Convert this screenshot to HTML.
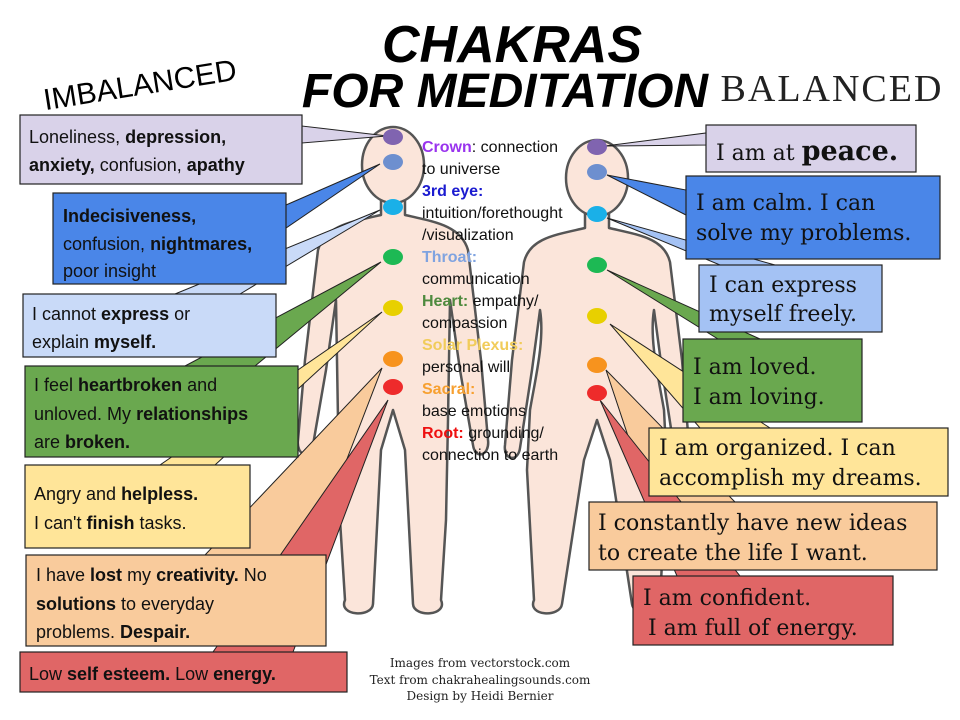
<!DOCTYPE html>
<html><head><meta charset="utf-8"><style>
html,body{margin:0;padding:0;background:#fff;}
svg{display:block;}
.l{font-family:"Liberation Sans",sans-serif;font-size:18px;fill:#111;}
.l tspan.b{font-weight:bold;}
.r{font-family:"DejaVu Serif","Liberation Serif",serif;font-size:22px;fill:#111;}
.c{font-family:"Liberation Sans",sans-serif;font-size:16px;fill:#111;}
.c .h{font-weight:bold;}
.f{font-family:"DejaVu Serif","Liberation Serif",serif;font-size:12px;fill:#222;}
</style></head><body>
<svg width="960" height="720" viewBox="0 0 960 720" xmlns="http://www.w3.org/2000/svg">
<rect width="960" height="720" fill="#fff"/>
<!-- titles -->
<text x="512" y="62" text-anchor="middle" font-family="Liberation Sans,sans-serif" font-weight="bold" font-style="italic" font-size="52" fill="#000">CHAKRAS</text>
<text x="505" y="107" text-anchor="middle" font-family="Liberation Sans,sans-serif" font-weight="bold" font-style="italic" font-size="48" fill="#000">FOR MEDITATION</text>
<text x="140" y="95" text-anchor="middle" transform="rotate(-9 140 85)" font-family="Liberation Sans,sans-serif" font-size="30" fill="#000">IMBALANCED</text>
<text x="832" y="101" text-anchor="middle" font-family="Liberation Serif,serif" font-size="38" letter-spacing="2" fill="#222">BALANCED</text>

<!-- bodies -->
<g fill="#fbe5da" stroke="#555" stroke-width="2.5" stroke-linejoin="round">
<path d="M381 195 L381 215 C350 222 325 226 318 250 L305 360 L298 440 C296 456 311 460 313 445 L326 370 L336 300 L338 420 L340 520 L345 600 C338 616 372 618 373 604 L381 450 L393 410 L405 450 L413 604 C414 618 448 616 441 600 L446 520 L448 420 L450 300 L460 370 L473 445 C475 460 490 456 488 440 L481 360 L468 250 C461 226 436 222 405 215 L405 195 Z"/>
<ellipse cx="393" cy="165" rx="31" ry="38"/>
<path d="M585 210 L585 228 C555 235 530 238 524 262 L512 360 L505 445 C503 460 518 463 520 448 L532 370 L540 310 C545 340 535 380 530 410 L527 470 L534 600 C527 616 560 618 562 604 L584 460 L597 420 L610 460 L632 604 C634 618 667 616 660 600 L667 470 L664 410 C659 380 649 340 654 310 L662 370 L674 448 C676 463 691 460 689 445 L682 360 L670 262 C664 238 639 235 609 228 L609 210 Z"/>
<ellipse cx="597" cy="178" rx="31" ry="38"/>
</g>

<!-- left tails -->
<g stroke="#222" stroke-width="1">
<polygon points="387,136 302,126 302,143" fill="#d9d2e9"/>
<polygon points="380,164 286,205 286,228" fill="#4a86e8"/>
<polygon points="380,210 240,294 175,294" fill="#c9daf8"/>
<polygon points="381,262 255,366 185,366" fill="#6aa84f"/>
<polygon points="382,312 215,465 160,465" fill="#ffe599"/>
<polygon points="382,368 310,555 205,555" fill="#f9cb9c"/>
<polygon points="388,400 293,652 213,652" fill="#e06666"/>
<!-- right tails -->
<polygon points="605,146 706,133 706,145" fill="#d9d2e9"/>
<polygon points="607,175 686,190 686,215" fill="#4a86e8"/>
<polygon points="607,218 775,265 720,265" fill="#a4c2f4"/>
<polygon points="607,270 760,339 718,339" fill="#6aa84f"/>
<polygon points="610,324 770,428 700,428" fill="#ffe599"/>
<polygon points="606,370 735,502 650,502" fill="#f9cb9c"/>
<polygon points="600,400 740,576 677,576" fill="#e06666"/>
</g>

<!-- dots -->
<g>
<ellipse cx="393" cy="137" rx="10" ry="8" fill="#8064b0"/>
<ellipse cx="393" cy="162" rx="10" ry="8" fill="#6d8fcf"/>
<ellipse cx="393" cy="207" rx="10" ry="8" fill="#1ab0e8"/>
<ellipse cx="393" cy="257" rx="10" ry="8" fill="#1db954"/>
<ellipse cx="393" cy="308" rx="10" ry="8" fill="#e8d000"/>
<ellipse cx="393" cy="359" rx="10" ry="8" fill="#f7931e"/>
<ellipse cx="393" cy="387" rx="10" ry="8" fill="#ee2b2b"/>
<ellipse cx="597" cy="147" rx="10" ry="8" fill="#8064b0"/>
<ellipse cx="597" cy="172" rx="10" ry="8" fill="#6d8fcf"/>
<ellipse cx="597" cy="214" rx="10" ry="8" fill="#1ab0e8"/>
<ellipse cx="597" cy="265" rx="10" ry="8" fill="#1db954"/>
<ellipse cx="597" cy="316" rx="10" ry="8" fill="#e8d000"/>
<ellipse cx="597" cy="365" rx="10" ry="8" fill="#f7931e"/>
<ellipse cx="597" cy="393" rx="10" ry="8" fill="#ee2b2b"/>
</g>

<!-- left boxes -->
<g stroke="#222" stroke-width="1.2">
<rect x="20" y="115" width="282" height="69" fill="#d9d2e9"/>
<rect x="53" y="193" width="233" height="91" fill="#4a86e8"/>
<rect x="23" y="294" width="253" height="63" fill="#c9daf8"/>
<rect x="25" y="366" width="273" height="91" fill="#6aa84f"/>
<rect x="25" y="465" width="225" height="83" fill="#ffe599"/>
<rect x="26" y="555" width="300" height="91" fill="#f9cb9c"/>
<rect x="20" y="652" width="327" height="40" fill="#e06666"/>
<!-- right boxes -->
<rect x="706" y="125" width="210" height="47" fill="#d9d2e9"/>
<rect x="686" y="176" width="254" height="83" fill="#4a86e8"/>
<rect x="699" y="265" width="183" height="67" fill="#a4c2f4"/>
<rect x="683" y="339" width="179" height="83" fill="#6aa84f"/>
<rect x="649" y="428" width="299" height="68" fill="#ffe599"/>
<rect x="589" y="502" width="348" height="68" fill="#f9cb9c"/>
<rect x="633" y="576" width="260" height="69" fill="#e06666"/>
</g>

<!-- left text -->
<text class="l" x="29" y="143">Loneliness, <tspan class="b">depression,</tspan></text>
<text class="l" x="29" y="171"><tspan class="b">anxiety,</tspan> confusion, <tspan class="b">apathy</tspan></text>
<text class="l" x="63" y="222"><tspan class="b">Indecisiveness,</tspan></text>
<text class="l" x="63" y="250">confusion, <tspan class="b">nightmares,</tspan></text>
<text class="l" x="63" y="277">poor insight</text>
<text class="l" x="32" y="320">I cannot <tspan class="b">express</tspan> or</text>
<text class="l" x="32" y="348">explain <tspan class="b">myself.</tspan></text>
<text class="l" x="34" y="391">I feel <tspan class="b">heartbroken</tspan> and</text>
<text class="l" x="34" y="420">unloved. My <tspan class="b">relationships</tspan></text>
<text class="l" x="34" y="448">are <tspan class="b">broken.</tspan></text>
<text class="l" x="34" y="500">Angry and <tspan class="b">helpless.</tspan></text>
<text class="l" x="34" y="529">I can't <tspan class="b">finish</tspan> tasks.</text>
<text class="l" x="36" y="581">I have <tspan class="b">lost</tspan> my <tspan class="b">creativity.</tspan> No</text>
<text class="l" x="36" y="610"><tspan class="b">solutions</tspan> to everyday</text>
<text class="l" x="36" y="638">problems. <tspan class="b">Despair.</tspan></text>
<text class="l" x="29" y="680">Low <tspan class="b">self esteem.</tspan> Low <tspan class="b">energy.</tspan></text>

<!-- center text -->
<g class="c">
<text x="422" y="152"><tspan class="h" fill="#9933ee">Crown</tspan>: connection</text>
<text x="422" y="174">to universe</text>
<text x="422" y="196" class="h" fill="#1a1ad0">3rd eye:</text>
<text x="422" y="218">intuition/forethought</text>
<text x="422" y="240">/visualization</text>
<text x="422" y="262" class="h" fill="#7fa3e0">Throat:</text>
<text x="422" y="284">communication</text>
<text x="422" y="306"><tspan class="h" fill="#4e8a3e">Heart:</tspan> empathy/</text>
<text x="422" y="328">compassion</text>
<text x="422" y="350" class="h" fill="#f1cc5a">Solar Plexus:</text>
<text x="422" y="372">personal will</text>
<text x="422" y="394" class="h" fill="#f7a030">Sacral:</text>
<text x="422" y="416">base emotions</text>
<text x="422" y="438"><tspan class="h" fill="#ee1111">Root:</tspan> grounding/</text>
<text x="422" y="460">connection to earth</text>
</g>

<!-- right text -->
<text class="r" x="716" y="160">I am at <tspan font-weight="bold" font-size="27">peace.</tspan></text>
<text class="r" x="696" y="210">I am calm. I can</text>
<text class="r" x="696" y="240">solve my problems.</text>
<text class="r" x="709" y="292">I can express</text>
<text class="r" x="709" y="321">myself freely.</text>
<text class="r" x="693" y="374">I am loved.</text>
<text class="r" x="693" y="404">I am loving.</text>
<text class="r" x="659" y="455">I am organized. I can</text>
<text class="r" x="659" y="485">accomplish my dreams.</text>
<text class="r" x="598" y="530">I constantly have new ideas</text>
<text class="r" x="598" y="560">to create the life I want.</text>
<text class="r" x="643" y="605">I am confident.</text>
<text class="r" x="648" y="635">I am full of energy.</text>

<!-- footer -->
<text class="f" x="480" y="667" text-anchor="middle">Images from vectorstock.com</text>
<text class="f" x="480" y="684" text-anchor="middle">Text from chakrahealingsounds.com</text>
<text class="f" x="480" y="700" text-anchor="middle">Design by Heidi Bernier</text>
</svg>
</body></html>
